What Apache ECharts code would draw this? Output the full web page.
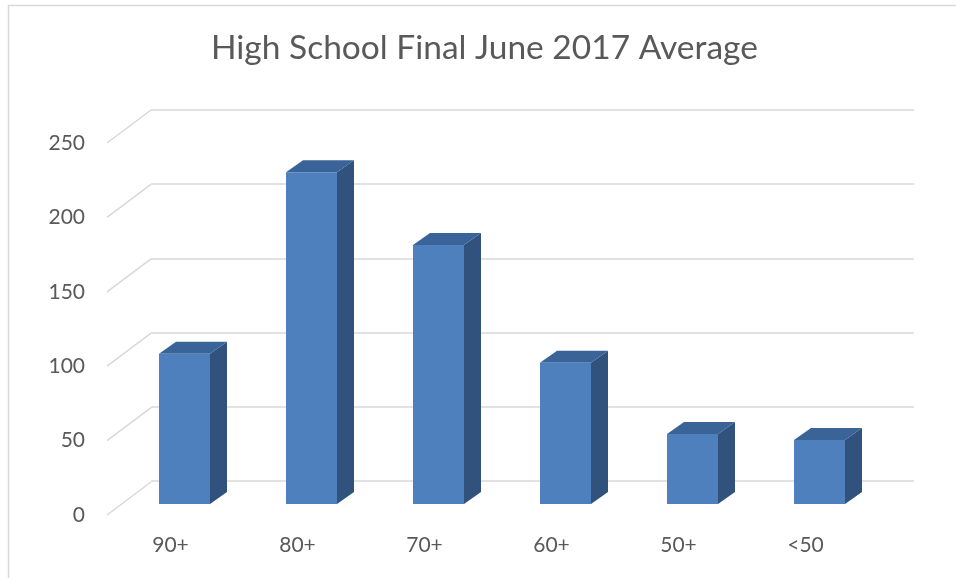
<!DOCTYPE html>
<html>
<head>
<meta charset="utf-8">
<script src="https://cdn.jsdelivr.net/npm/echarts@6/dist/echarts.min.js"></script>
<style>html,body{margin:0;padding:0;background:#fff;}#c{width:956px;height:578px;}</style>
</head>
<body>
<div id="c"></div>
<script>
var titleText = 'High School Final June 2017 Average';
var categories = ['90+', '80+', '70+', '60+', '50+', '<50'];
var values = [101, 223, 174, 95, 47, 43];
var yTicks = [0, 50, 100, 150, 200, 250];

var FONT = 'Lato';
var TXT = '#595959';
var GRIDC = '#d9d9d9';
// perspective offsets (pixels)
var WALL_DX = 44, WALL_DY = -33;   // front plane -> back wall
var BAR_DX = 14, BAR_DY = -11;     // front plane -> bar front face
var DEPTH_DX = 17, DEPTH_DY = -12; // bar depth
var BAR_W = 51;

var chart = echarts.init(document.getElementById('c'), null, {renderer: 'canvas'});

var option = {
  backgroundColor: '#ffffff',
  animation: false,
  title: {
    text: titleText,
    left: 206,
    top: 26,
    textStyle: {fontFamily: FONT, fontSize: 33.5, fontWeight: 'normal', color: TXT}
  },
  graphic: [{
    type: 'polyline',
    shape: {points: [[8.5, 600], [8.5, 5.5], [1000, 5.5]]},
    style: {stroke: '#d9d9d9', lineWidth: 1.5, fill: null},
    silent: true
  }],
  grid: [
    {left: 107, right: 87, top: 143, bottom: 63},
    {left: 151, right: 42, top: 110, bottom: 97}
  ],
  xAxis: [
    {
      type: 'category', gridIndex: 0, data: categories,
      axisLine: {show: false}, axisTick: {show: false},
      axisLabel: {fontFamily: FONT, fontSize: 21, color: TXT, margin: 20}
    },
    {
      type: 'category', gridIndex: 1, data: categories, show: false
    }
  ],
  yAxis: [
    {
      type: 'value', gridIndex: 0, min: 0, max: 250, interval: 50,
      axisLine: {show: false}, axisTick: {show: false}, splitLine: {show: false},
      axisLabel: {fontFamily: FONT, fontSize: 21, color: TXT, margin: 22}
    },
    {
      type: 'value', gridIndex: 1, min: 0, max: 250, interval: 50,
      axisLine: {show: false}, axisTick: {show: false}, axisLabel: {show: false},
      splitLine: {show: true, lineStyle: {color: GRIDC, width: 1.5}}
    }
  ],
  series: [
    {
      type: 'custom',
      xAxisIndex: 0, yAxisIndex: 0,
      z: 1,
      silent: true,
      data: yTicks.map(function (v) { return [0, v]; }),
      renderItem: function (params, api) {
        var cs = params.coordSys;
        var p = api.coord([0, api.value(1)]);
        return {
          type: 'line',
          shape: {x1: cs.x, y1: p[1], x2: cs.x + WALL_DX, y2: p[1] + WALL_DY},
          style: {stroke: GRIDC, lineWidth: 1.5}
        };
      }
    },
    {
      type: 'custom',
      xAxisIndex: 0, yAxisIndex: 0,
      z: 5,
      data: values.map(function (v, i) { return [i, v]; }),
      renderItem: function (params, api) {
        var i = api.value(0), v = api.value(1);
        var b = api.coord([i, 0]);
        var t = api.coord([i, v]);
        var x0 = b[0] + BAR_DX - BAR_W / 2;
        var x1 = x0 + BAR_W;
        var yb = b[1] + BAR_DY;
        var yt = t[1] + BAR_DY;
        return {
          type: 'group',
          children: [
            {
              type: 'polygon',
              shape: {points: [[x1, yb], [x1, yt], [x1 + DEPTH_DX, yt + DEPTH_DY], [x1 + DEPTH_DX, yb + DEPTH_DY]]},
              style: {fill: '#30527d'}
            },
            {
              type: 'polygon',
              shape: {points: [[x0, yt], [x1, yt], [x1 + DEPTH_DX, yt + DEPTH_DY], [x0 + DEPTH_DX, yt + DEPTH_DY]]},
              style: {fill: '#3a6498'}
            },
            {
              type: 'rect',
              shape: {x: x0, y: yt, width: BAR_W, height: yb - yt},
              style: {fill: '#4e80bd'}
            }
          ]
        };
      }
    }
  ]
};
chart.setOption(option);
</script>
</body>
</html>
